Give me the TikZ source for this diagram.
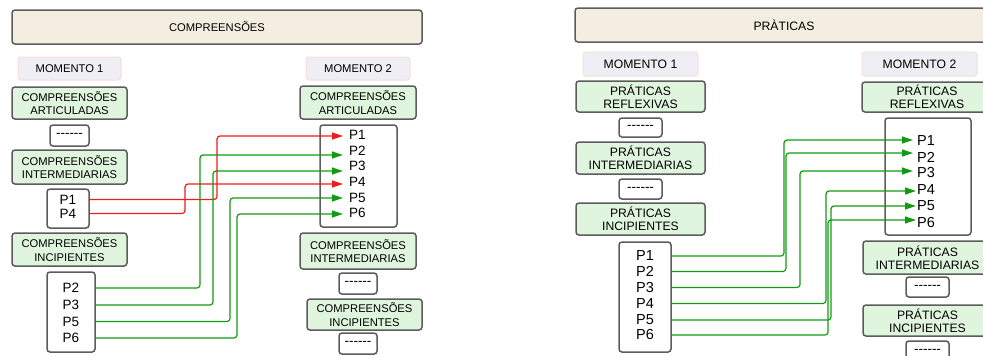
\documentclass[tikz,border=0pt]{standalone}
\usepackage{fontspec}
\setmainfont{Liberation Sans}
\usetikzlibrary{arrows.meta}
\definecolor{hdrfill}{HTML}{F4EEE1}
\definecolor{grnfill}{HTML}{E0F5DE}
\definecolor{momfill}{HTML}{EFEEF4}
\definecolor{momline}{HTML}{F7DCDC}
\definecolor{bordergray}{HTML}{5C5C5C}
\definecolor{redline}{HTML}{EE1C1C}
\definecolor{grnline}{HTML}{139A13}
\newcommand{\fL}{\fontsize{11.2}{13.3}\selectfont}
\newcommand{\fR}{\fontsize{12.2}{13.3}\selectfont}
\newcommand{\pL}{\fontsize{13.5}{16}\selectfont}
\newcommand{\pR}{\fontsize{14.5}{16}\selectfont}
\newcommand{\fD}{\fontsize{13.5}{16}\selectfont}
\newcommand{\dashes}{-{}-{}-{}-{}-{}-}
\begin{document}
\begin{tikzpicture}[x=1pt,y=-1pt,
  hdrbox/.style={draw=bordergray,fill=hdrfill,rounded corners=3,line width=1.5,inner sep=0},
  mombox/.style={draw=momline,fill=momfill,rounded corners=3,line width=1,inner sep=0},
  grnbox/.style={draw=bordergray,fill=grnfill,rounded corners=3,line width=1.5,inner sep=0,align=center},
  whtbox/.style={draw=bordergray,fill=white,rounded corners=3,line width=1.5,inner sep=0},
  plab/.style={inner sep=0},
  conn/.style={line width=1.2,rounded corners=3,-{Triangle[length=11,width=7]}},
  rconn/.style={conn,draw=redline,color=redline},
  gconn/.style={conn,draw=grnline,color=grnline}]
\useasboundingbox (0,0) rectangle (983,356);
\clip (0,0) rectangle (983,356);

% ---------------- LEFT PANEL ----------------
\node[hdrbox,minimum width=410,minimum height=34,font=\fL] (hdrL) at (217,27) {COMPREENSÕES};
\node[mombox,minimum width=103,minimum height=23,font=\fL] (m1L) at (69.5,68.5) {MOMENTO 1};
\node[mombox,minimum width=104,minimum height=23,font=\fL] (m2L) at (358,68.5) {MOMENTO 2};
\node[grnbox,minimum width=115,minimum height=32,font=\fL] (artL) at (69.5,103) {COMPREENSÕES\\ARTICULADAS};
\node[whtbox,minimum width=39,minimum height=21,font=\fD] (dL1) at (69.5,135.5) {\dashes};
\node[grnbox,minimum width=115,minimum height=34,font=\fL] (intL) at (69.5,167) {COMPREENSÕES\\INTERMEDIARIAS};
\node[whtbox,minimum width=42,minimum height=39] (p14) at (68,208.5) {};
\node[plab,font=\pL] (lp1) at (68,199.5) {P1};
\node[plab,font=\pL] (lp4) at (68,213.5) {P4};
\node[grnbox,minimum width=115,minimum height=33,font=\fL] (incL) at (69.5,249.5) {COMPREENSÕES\\INCIPIENTES};
\node[whtbox,minimum width=48,minimum height=80] (p2356) at (71,312) {};
\node[plab,font=\pL] (lp2) at (71,288) {P2};
\node[plab,font=\pL] (lp3) at (71,305) {P3};
\node[plab,font=\pL] (lp5) at (71,321.5) {P5};
\node[plab,font=\pL] (lp6) at (71,338) {P6};

\node[grnbox,minimum width=116,minimum height=33,font=\fL] (artR) at (358,102.5) {COMPREENSÕES\\ARTICULADAS};
\node[whtbox,minimum width=77,minimum height=102] (pR) at (358.5,176) {};
\node[plab,font=\pL,anchor=west] (rp1) at (349,135) {P1};
\node[plab,font=\pL,anchor=west] (rp2) at (349,150.5) {P2};
\node[plab,font=\pL,anchor=west] (rp3) at (349,166) {P3};
\node[plab,font=\pL,anchor=west] (rp4) at (349,182) {P4};
\node[plab,font=\pL,anchor=west] (rp5) at (349,197.5) {P5};
\node[plab,font=\pL,anchor=west] (rp6) at (349,213) {P6};
\node[grnbox,minimum width=116,minimum height=36,font=\fL] (intR) at (358,251) {COMPREENSÕES\\INTERMEDIARIAS};
\node[whtbox,minimum width=38,minimum height=21,font=\fD] (dR1) at (358,283.5) {\dashes};
\node[grnbox,minimum width=115,minimum height=31,font=\fL] (incR) at (364.5,314.5) {COMPREENSÕES\\INCIPIENTES};
\node[whtbox,minimum width=38,minimum height=21,font=\fD] (dR2) at (358,343.5) {\dashes};

\coordinate (aL1) at (343,136);
\coordinate (aL2) at (343,155);
\coordinate (aL3) at (343,171);
\coordinate (aL4) at (343,184);
\coordinate (aL5) at (343,198);
\coordinate (aL6) at (343,214);

\draw[rconn] (lp1 -| p14.east) -| (217,136) -- (aL1);
\draw[rconn] (lp4 -| p14.east) -| (185,184) -- (aL4);
\draw[gconn] (lp2 -| p2356.east) -| (200,155) -- (aL2);
\draw[gconn] (lp3 -| p2356.east) -| (213,171) -- (aL3);
\draw[gconn] (lp5 -| p2356.east) -| (230,198) -- (aL5);
\draw[gconn] (lp6 -| p2356.east) -| (237,214) -- (aL6);

% ---------------- RIGHT PANEL ----------------
\node[hdrbox,minimum width=418,minimum height=34,font=\fR] (hdrR) at (784,25) {PRÀTICAS};
\node[mombox,minimum width=115,minimum height=24,font=\fR] (m1R) at (640.5,64) {MOMENTO 1};
\node[mombox,minimum width=115,minimum height=24,font=\fR] (m2R) at (919.5,64) {MOMENTO 2};
\node[grnbox,minimum width=129,minimum height=31,font=\fR] (refL) at (640.5,96.5) {PRÁTICAS\\REFLEXIVAS};
\node[whtbox,minimum width=43,minimum height=19,font=\fD] (dLR1) at (640.5,127.5) {\dashes};
\node[grnbox,minimum width=129,minimum height=32,font=\fR] (intLR) at (640.5,158) {PRÁTICAS\\INTERMEDIARIAS};
\node[whtbox,minimum width=43,minimum height=20,font=\fD] (dLR2) at (640.5,189) {\dashes};
\node[grnbox,minimum width=129,minimum height=32,font=\fR] (incLR) at (640.5,219) {PRÁTICAS\\INCIPIENTES};
\node[whtbox,minimum width=52,minimum height=110] (pLR) at (645,297) {};
\node[plab,font=\pR] (sp1) at (645,256) {P1};
\node[plab,font=\pR] (sp2) at (645,271.5) {P2};
\node[plab,font=\pR] (sp3) at (645,287.5) {P3};
\node[plab,font=\pR] (sp4) at (645,303.5) {P4};
\node[plab,font=\pR] (sp5) at (645,320) {P5};
\node[plab,font=\pR] (sp6) at (645,335) {P6};

\node[grnbox,minimum width=130,minimum height=30,font=\fR] (refR) at (927,97) {PRÁTICAS\\REFLEXIVAS};
\node[whtbox,minimum width=86,minimum height=117] (pRR) at (928,176.5) {};
\node[plab,font=\pR,anchor=west] (tp1) at (917,141) {P1};
\node[plab,font=\pR,anchor=west] (tp2) at (917,157) {P2};
\node[plab,font=\pR,anchor=west] (tp3) at (917,173) {P3};
\node[plab,font=\pR,anchor=west] (tp4) at (917,190) {P4};
\node[plab,font=\pR,anchor=west] (tp5) at (917,206) {P5};
\node[plab,font=\pR,anchor=west] (tp6) at (917,222.5) {P6};
\node[grnbox,minimum width=129,minimum height=33,font=\fR] (intRR) at (927.5,257.5) {PRÁTICAS\\INTERMEDIARIAS};
\node[whtbox,minimum width=43,minimum height=20,font=\fD] (dRR1) at (927.5,287) {\dashes};
\node[grnbox,minimum width=129,minimum height=31,font=\fR] (incRR) at (927.5,320.5) {PRÁTICAS\\INCIPIENTES};
\node[whtbox,minimum width=43,minimum height=20,font=\fD] (dRR2) at (927.5,351) {\dashes};

\coordinate (aR1) at (913,140);
\coordinate (aR2) at (913,153);
\coordinate (aR3) at (913,171);
\coordinate (aR4) at (916,191);
\coordinate (aR5) at (916,206);
\coordinate (aR6) at (916,220);

\draw[gconn] (sp1 -| pLR.east) -| (784,140) -- (aR1);
\draw[gconn] (sp2 -| pLR.east) -| (786,153) -- (aR2);
\draw[gconn] (sp3 -| pLR.east) -| (800,171) -- (aR3);
\draw[gconn] (sp4 -| pLR.east) -| (826,191) -- (aR4);
\draw[gconn] (sp5 -| pLR.east) -| (831,206) -- (aR5);
\draw[gconn] (sp6 -| pLR.east) -| (828,220) -- (aR6);
\end{tikzpicture}
\end{document}
